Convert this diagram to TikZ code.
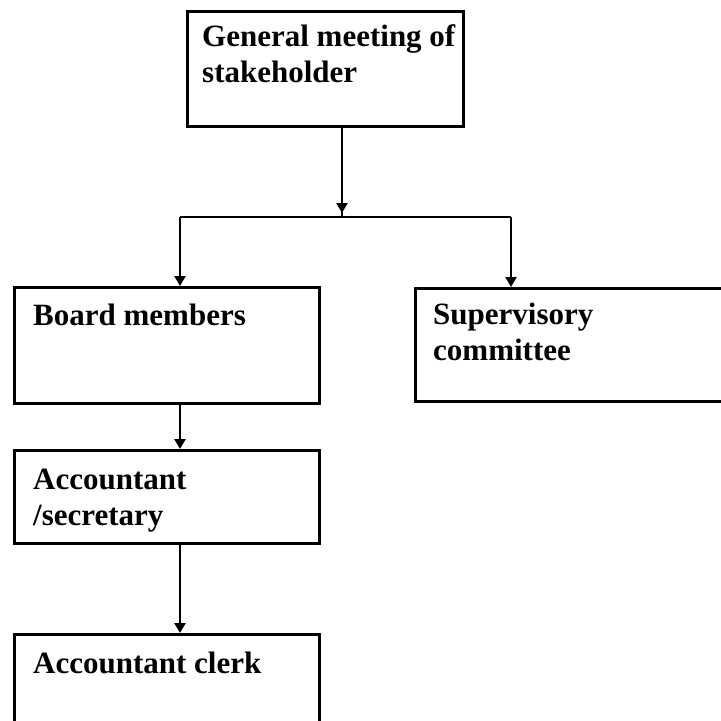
\documentclass[tikz,border=0pt]{standalone}
\usepackage{fontspec}
\setmainfont{Liberation Serif}
\usetikzlibrary{arrows.meta}
\begin{document}
\begin{tikzpicture}[
    x=1pt, y=-1pt,
    box/.style={draw, line width=2.8pt, anchor=north west, inner sep=0pt},
    lbl/.style={anchor=base west, inner sep=0pt, align=left, font=\bfseries\fontsize{31}{36}\selectfont},
    conn/.style={line width=2.3pt},
    arr/.style={conn, -{Triangle[length=10pt, width=11pt]}},
]
\useasboundingbox (0,0) rectangle (721,721);
\clip (0,0) rectangle (721,721);
% Top box (multi-line labels sit on their last baseline)
\node[box, minimum width=276pt, minimum height=115pt] (gm) at (186,10) {};
\node[lbl] (gmlbl) at (202,82) {General meeting of\\stakeholder};
% Second row
\node[box, minimum width=305pt, minimum height=116pt] (board) at (13,286) {};
\node[lbl] (boardlbl) at (33,325) {Board members};
\node[box, minimum width=340pt, minimum height=113pt] (sup) at (414,287) {};
\node[lbl] (suplbl) at (433,360) {Supervisory\\committee};
% Left column
\node[box, minimum width=305pt, minimum height=93pt] (acc) at (13,449) {};
\node[lbl] (acclbl) at (33,525) {Accountant\\/secretary};
\node[box, minimum width=305pt, minimum height=150pt] (clerk) at (13,633) {};
\node[lbl] (clerklbl) at (33,673) {Accountant clerk};
% Branch points
\coordinate (split) at (342,217);
\coordinate (lbranch) at (180,217);
\coordinate (rbranch) at (511,217);
% Connectors
\draw[conn] (gm.south -| split) -- (split);
\draw[arr] (gm.south -| split) -- ([yshift=4pt]split);
\draw[conn] (lbranch) -- (rbranch);
\draw[arr] (lbranch) -- (lbranch |- board.north);
\draw[arr] (rbranch) -- (rbranch |- sup.north);
\draw[arr] (board.south -| lbranch) -- (acc.north -| lbranch);
\draw[arr] (acc.south -| lbranch) -- (clerk.north -| lbranch);
\end{tikzpicture}
\end{document}
